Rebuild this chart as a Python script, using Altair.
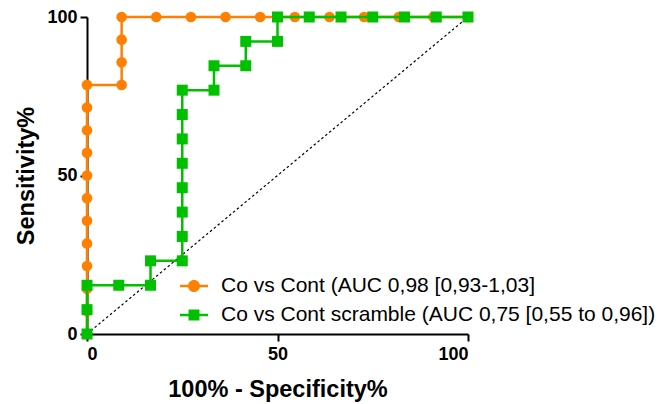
import altair as alt
import pandas as pd

series_labels = ["Co vs Cont (AUC 0,98 [0,93-1,03]",
                 "Co vs Cont scramble (AUC 0,75 [0,55 to 0,96])"]
series_colors = ["#FF8000", "#00C000"]

orange_x = [0, 0, 0, 0, 0, 0, 0, 0, 0, 0, 0, 0,
            9.09, 9.09, 9.09, 9.09,
            18.18, 27.27, 36.36, 45.45, 54.55, 63.64, 72.73, 81.82, 90.91, 100]
orange_y = [0, 7.14, 14.29, 21.43, 28.57, 35.71, 42.86, 50, 57.14, 64.29, 71.43, 78.57,
            78.57, 85.71, 92.86, 100,
            100, 100, 100, 100, 100, 100, 100, 100, 100, 100]

green_x = [0, 0, 0, 8.33, 16.67, 16.67,
           25, 25, 25, 25, 25, 25, 25, 25,
           33.33, 33.33, 41.67, 41.67, 50, 50,
           58.33, 66.67, 75, 83.33, 91.67, 100]
green_y = [0, 7.69, 15.38, 15.38, 15.38, 23.08,
           23.08, 30.77, 38.46, 46.15, 53.85, 61.54, 69.23, 76.92,
           76.92, 84.62, 84.62, 92.31, 92.31, 100,
           100, 100, 100, 100, 100, 100]

diag_x = [0, 100]
diag_y = [0, 100]

rows = []
for i, (x, y) in enumerate(zip(orange_x, orange_y)):
    rows.append({"series": series_labels[0], "x": x, "y": y, "order": i})
for i, (x, y) in enumerate(zip(green_x, green_y)):
    rows.append({"series": series_labels[1], "x": x, "y": y, "order": i})
df = pd.DataFrame(rows)
diag = pd.DataFrame({"x": diag_x, "y": diag_y})

xs = alt.Scale(domain=[0, 100], nice=False)
ys = alt.Scale(domain=[0, 100], nice=False)
cs = alt.Scale(domain=series_labels, range=series_colors)

X = alt.X("x:Q", scale=xs, title="100% - Specificity%",
          axis=alt.Axis(values=[0, 50, 100], titlePadding=14, labelPadding=4))
Y = alt.Y("y:Q", scale=ys, title="Sensitivity%",
          axis=alt.Axis(values=[0, 50, 100], titlePadding=8, labelPadding=3))

diag_line = alt.Chart(diag).mark_line(color="black", strokeWidth=1.2, strokeDash=[2.5, 2.5]).encode(
    x=alt.X("x:Q", scale=xs), y=alt.Y("y:Q", scale=ys))

def series_layers(idx, shape, size):
    base = alt.Chart(df).transform_filter(alt.datum.series == series_labels[idx])
    line = base.mark_line(strokeWidth=2.5, color=series_colors[idx]).encode(x=X, y=Y, order="order:Q")
    pts = base.mark_point(filled=True, shape=shape, size=size, opacity=1,
                          color=series_colors[idx]).encode(x=X, y=Y)
    return line + pts

circle_path = ("M-1,-0.09L1,-0.09L1,0.09L-1,0.09Z"
               "M-0.43,0A0.43,0.43,0,1,1,0.43,0A0.43,0.43,0,1,1,-0.43,0Z")
square_path = ("M-1,-0.09L1,-0.09L1,0.09L-1,0.09Z"
               "M-0.39,-0.39L0.39,-0.39L0.39,0.39L-0.39,0.39Z")

# legend-only layer: no marks drawn, legend built from the explicit scale domain
legend_layer = alt.Chart(df).transform_filter("false").mark_point(
    filled=True, opacity=1, strokeWidth=0).encode(
    x=X, y=Y,
    color=alt.Color("series:N", scale=cs, title=None,
                    legend=alt.Legend(orient="none", legendX=93, legendY=255,
                                      symbolSize=784, symbolOpacity=1,
                                      symbolStrokeWidth=0,
                                      labelFontSize=21, labelFont="Liberation Sans",
                                      labelColor="black", labelLimit=700,
                                      rowPadding=5, padding=0, labelOffset=13)),
    shape=alt.Shape("series:N", scale=alt.Scale(domain=series_labels, range=[circle_path, square_path]),
                    title=None),
)

chart = alt.layer(
    legend_layer,
    diag_line,
    series_layers(0, "circle", 113),
    series_layers(1, "square", 121),
).properties(
    width=381, height=317,
    autosize=alt.AutoSizeParams(type="none"),
    padding={"left": 79, "top": 9, "right": 196, "bottom": 80},
).configure_view(stroke=None).configure_axis(
    grid=False, domainColor="black", domainWidth=2, tickColor="black", tickWidth=2,
    tickSize=7, labelFont="Liberation Sans", labelFontWeight="bold", labelFontSize=18,
    labelColor="black", titleFont="Liberation Sans", titleFontWeight="bold",
    titleFontSize=23.5, titleColor="black",
)

chart.save("out.html", embed_options={"renderer": "svg", "actions": False})
